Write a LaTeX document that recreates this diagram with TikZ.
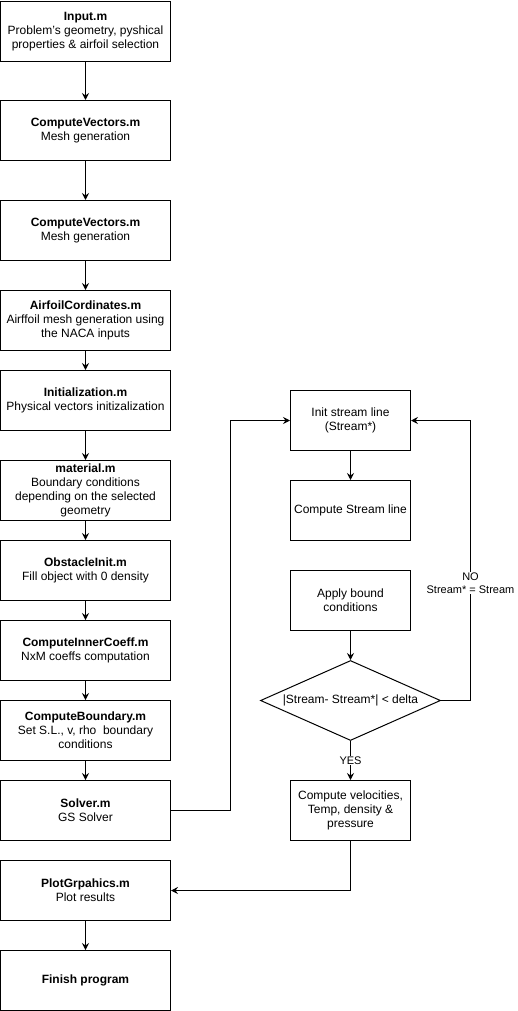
\documentclass[tikz,border=0pt]{standalone}
\usepackage{fontspec}
\setmainfont[Ligatures=NoCommon]{Liberation Sans}
\usetikzlibrary{arrows.meta,shapes.geometric}
\begin{document}
\begin{tikzpicture}[x=1pt,y=-1pt,
  box/.style={draw,line width=1pt,rectangle,minimum width=170pt,minimum height=60pt,inner sep=0pt,align=center,font=\fontsize{12}{14}\selectfont},
  rbox/.style={box,minimum width=120pt},
  dec/.style={draw,line width=1pt,diamond,minimum width=180pt,minimum height=80pt,aspect=2.25,inner sep=0pt,font=\fontsize{12}{14}\selectfont},
  arr/.style={line width=1pt,-{Stealth[length=7pt,width=7pt,inset=2.5pt]}},
  lbl/.style={fill=white,inner sep=1pt,align=center,font=\fontsize{11}{13}\selectfont}]
\useasboundingbox (0,0) rectangle (517,1011);
\node[box] (a1) at (85.5,31.5) {\textbf{Input.m}\\Problem's geometry, pyshical\\properties \& airfoil selection};
\node[box] (a2) at (85.5,130.5) {\textbf{ComputeVectors.m}\\Mesh generation};
\node[box] (a3) at (85.5,230.5) {\textbf{ComputeVectors.m}\\Mesh generation};
\node[box] (a4) at (85.5,320.5) {\textbf{AirfoilCordinates.m}\\Airffoil mesh generation using\\the NACA inputs};
\node[box] (a5) at (85.5,400.5) {\textbf{Initialization.m}\\Physical vectors initizalization};
\node[box] (a6) at (85.5,490.5) {\textbf{material.m}\\Boundary conditions\\depending on the selected\\geometry};
\node[box] (a7) at (85.5,570.5) {\textbf{ObstacleInit.m}\\Fill object with 0 density};
\node[box] (a8) at (85.5,650.5) {\textbf{ComputeInnerCoeff.m}\\NxM coeffs computation};
\node[box] (a9) at (85.5,730.5) {\textbf{ComputeBoundary.m}\\Set S.L., v, rho\ \ boundary\\conditions};
\node[box] (a10) at (85.5,810.5) {\textbf{Solver.m}\\GS Solver};
\node[box] (a11) at (85.5,890.5) {\textbf{PlotGrpahics.m}\\Plot results};
\node[box] (a12) at (85.5,980.5) {\textbf{Finish program}};
\node[rbox] (r1) at (350.5,420.5) {Init stream line\\(Stream*)};
\node[rbox] (r2) at (350.5,510.5) {Compute Stream line};
\node[rbox] (r3) at (350.5,600.5) {Apply bound\\conditions};
\node[dec] (d) at (350.5,700.5) {|Stream- Stream*| < delta};
\node[rbox] (r4) at (350.5,810.5) {Compute velocities,\\Temp, density \&\\pressure};
\coordinate (c1) at (230.5,810.5);
\coordinate (c2) at (230.5,420.5);
\coordinate (c3) at (470.5,700.5);
\coordinate (c4) at (470.5,420.5);
\coordinate (c5) at (350.5,890.5);
\foreach \i/\j in {1/2,2/3,3/4,4/5,5/6,6/7,7/8,8/9,9/10,11/12}
  \draw[arr] (a\i) -- (a\j);
\draw[arr] (a10.east) -- (c1) -- (c2) -- (r1.west);
\draw[arr] (r1) -- (r2);
\draw[arr] (r3) -- (d);
\draw[arr] (d.east) -- (c3) -- node[lbl,pos=0.42] (no) {NO\\Stream* = Stream} (c4) -- (r1.east);
\draw[arr] (d.south) -- node[lbl] (yes) {YES} (r4.north);
\draw[arr] (r4.south) -- (c5) -- (a11.east);
\end{tikzpicture}
\end{document}
